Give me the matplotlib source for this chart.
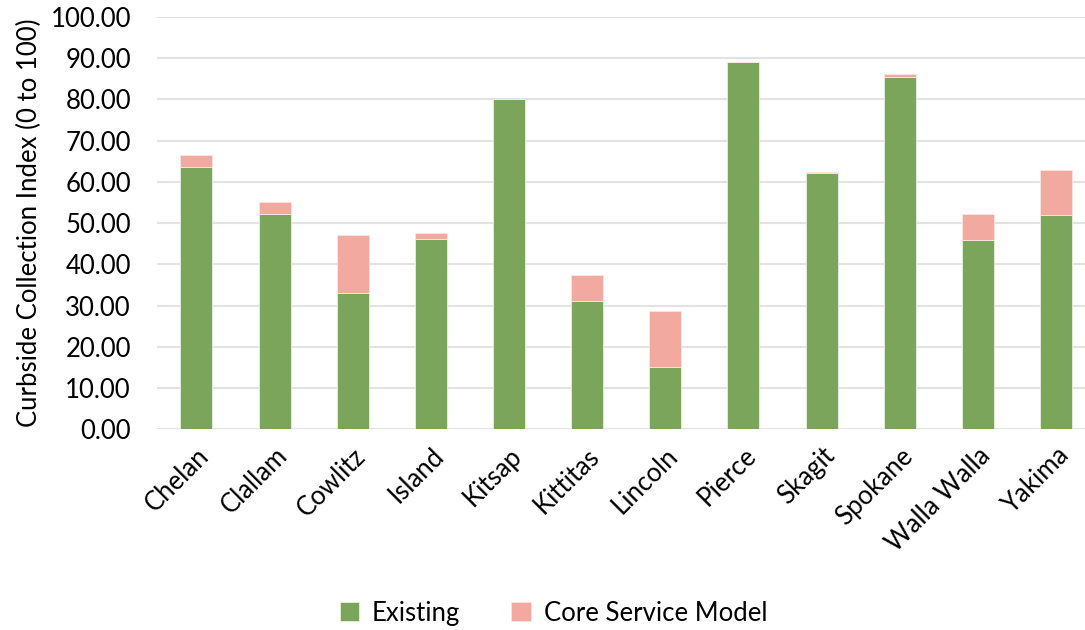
import matplotlib
matplotlib.use("Agg")
import matplotlib.pyplot as plt
import numpy as np

counties = ["Chelan", "Clallam", "Cowlitz", "Island", "Kitsap", "Kittitas",
            "Lincoln", "Pierce", "Skagit", "Spokane", "Walla Walla", "Yakima"]
existing = [63.7, 52.3, 33.0, 46.2, 80.2, 31.1, 15.1, 89.2, 62.2, 85.4, 45.9, 52.0]
core_total = [66.6, 55.2, 47.2, 47.5, 80.2, 37.5, 28.7, 89.2, 62.5, 86.2, 52.1, 62.9]
core_increment = [t - e for t, e in zip(core_total, existing)]

plt.rcParams['font.family'] = ['Lato', 'DejaVu Sans']
FS = 18.5

fig = plt.figure(figsize=(10.85, 6.3), dpi=100)
ax = fig.add_axes([0.145, 0.3186, 0.855, 0.6544])

x = np.arange(len(counties))
w = 0.41
ax.bar(x, existing, w, color="#7BA55A", edgecolor="#E8F0E0", linewidth=0.6,
       label="Existing", zorder=3)
ax.bar(x, core_increment, w, bottom=existing, color="#F2A9A0", edgecolor="#FCE6E3",
       linewidth=0.6, label="Core Service Model", zorder=3)

ax.set_ylim(0, 100)
ax.set_xlim(-0.5, 11.37)
ax.set_yticks(np.arange(0, 101, 10))
ax.set_yticklabels([f"{v:.2f}" for v in np.arange(0, 101, 10)], fontsize=FS)
ax.set_xticks(x)
ax.set_xticklabels(counties, rotation=45, ha="right", rotation_mode="anchor", fontsize=FS)
ax.tick_params(axis="both", length=0)
ax.tick_params(axis="y", pad=19)
ax.tick_params(axis="x", pad=10)
ax.grid(axis="y", color="#E3E3E3", linewidth=1.5, zorder=0)
for s in ax.spines.values():
    s.set_visible(False)
ax.set_ylabel("Curbside Collection Index (0 to 100)", fontsize=FS, labelpad=6)

fig.legend(loc="lower center", bbox_to_anchor=(0.51, -0.03), ncol=2, frameon=False,
           fontsize=FS, handlelength=0.75, handleheight=0.75, columnspacing=2.0,
           handletextpad=0.5)

fig.savefig("out.png", dpi=100)
